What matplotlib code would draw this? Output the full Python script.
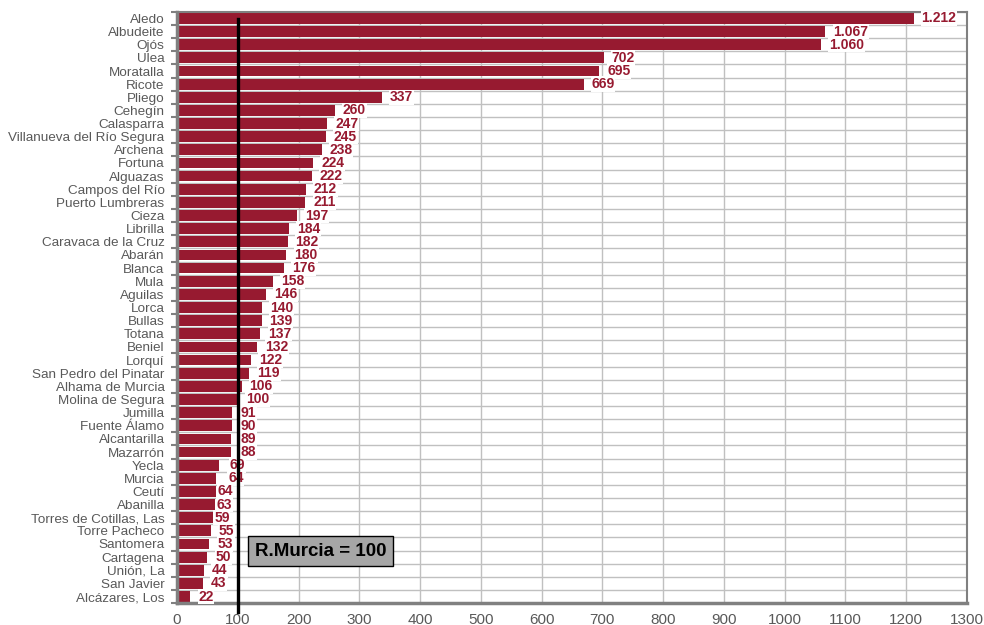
import matplotlib.pyplot as plt
import numpy as np

plt.rcParams['font.family'] = ['Liberation Sans', 'DejaVu Sans']

municipios = ['Aledo', 'Albudeite', 'Ojós', 'Ulea', 'Moratalla', 'Ricote', 'Pliego',
              'Cehegín', 'Calasparra', 'Villanueva del Río Segura', 'Archena', 'Fortuna',
              'Alguazas', 'Campos del Río', 'Puerto Lumbreras', 'Cieza', 'Librilla',
              'Caravaca de la Cruz', 'Abarán', 'Blanca', 'Mula', 'Aguilas', 'Lorca',
              'Bullas', 'Totana', 'Beniel', 'Lorquí', 'San Pedro del Pinatar',
              'Alhama de Murcia', 'Molina de Segura', 'Jumilla', 'Fuente Álamo',
              'Alcantarilla', 'Mazarrón', 'Yecla', 'Murcia', 'Ceutí', 'Abanilla',
              'Torres de Cotillas, Las', 'Torre Pacheco', 'Santomera', 'Cartagena',
              'Unión, La', 'San Javier', 'Alcázares, Los']
indice = [1212, 1067, 1060, 702, 695, 669, 337, 260, 247, 245, 238, 224, 222, 212, 211,
          197, 184, 182, 180, 176, 158, 146, 140, 139, 137, 132, 122, 119, 106, 100,
          91, 90, 89, 88, 69, 64, 64, 63, 59, 55, 53, 50, 44, 43, 22]
referencia = 100

rojo = '#971a30'
gris = '#595959'

fig = plt.figure(figsize=(9.84, 6.25), dpi=100)
ax = fig.add_axes([0.18, 0.035, 0.8027, 0.946])

y = np.arange(len(municipios))
ax.barh(y, indice, height=0.82, color=rojo, zorder=2)
ax.set_ylim(len(municipios) - 0.5, -0.5)
ax.set_xlim(0, 1300)
ax.set_xticks(np.arange(0, 1301, 100))

ax.set_yticks(y)
ax.set_yticklabels(municipios)
ax.set_yticks(np.arange(-0.5, len(municipios), 1), minor=True)
ax.tick_params(axis='y', which='major', length=0, labelsize=9.7, labelcolor=gris, pad=9)
ax.tick_params(axis='y', which='minor', length=4, width=1.5, color='#808080')
ax.tick_params(axis='x', length=0, labelsize=11, labelcolor=gris, pad=7)

ax.grid(axis='x', which='major', color='#c0c0c0', lw=1, zorder=0)
ax.grid(axis='y', which='minor', color='#c0c0c0', lw=1, zorder=0)
ax.set_axisbelow(True)
for s in ax.spines.values():
    s.set_color('#808080')
    s.set_linewidth(1.5)
ax.spines['left'].set_linewidth(2.5)
ax.spines['bottom'].set_linewidth(2.5)

# etiquetas: se apartan de la linea de referencia salvo dos, como en el original
extra = {'Yecla': 4, 'Murcia': 18}
ancho = 30
for i, (m, v) in enumerate(zip(municipios, indice)):
    txt = f'{v:,}'.replace(',', '.')
    xt = v + 13
    if v < referencia:
        if xt + ancho > referencia and v + 2 + ancho <= referencia:
            xt = v + 2
        elif v >= 80:
            xt = max(xt, referencia + 5)
    xt += extra.get(m, 0)
    ax.text(xt, i, txt, va='center', ha='left', fontsize=10,
            fontweight='bold', color=rojo, zorder=3,
            bbox=dict(boxstyle='square,pad=0.05', fc='white', ec='none'))

ax.axvline(referencia, ymin=-0.015, ymax=0.988, color='black', lw=2.4, zorder=4,
           clip_on=False)

ax.text(0.098, 0.088, 'R.Murcia = 100', transform=ax.transAxes, fontsize=13.5,
        fontweight='bold', color='black', va='center', ha='left', zorder=5,
        bbox=dict(boxstyle='square,pad=0.35', fc='#a6a6a6', ec='black', lw=1))

fig.savefig('out.png', dpi=100)
